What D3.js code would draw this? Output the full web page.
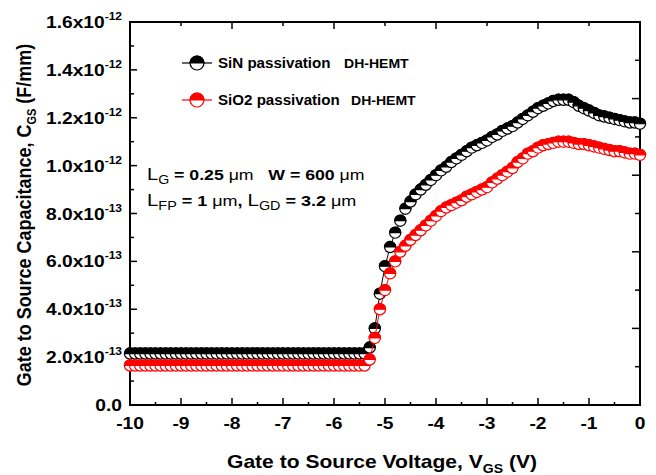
<!DOCTYPE html>
<html>
<head>
<meta charset="utf-8">
<script src="https://cdn.jsdelivr.net/npm/d3@7"></script>
<style>
  body { margin: 0; background: #fff; }
  text { font-family: "Liberation Sans", Arial, sans-serif; white-space: pre; }
</style>
</head>
<body>
<script>
// gate voltage grid, 0.1 V steps from -10 to 0
var vgs = d3.range(-100, 1).map(function(i) { return i / 10; });

// Cgs in units of 1e-13 F/mm, one value per vgs point
var sinCgs = [
  2.15, 2.15, 2.15, 2.15, 2.15, 2.15, 2.15, 2.15, 2.15, 2.15,
  2.15, 2.15, 2.15, 2.15, 2.15, 2.15, 2.15, 2.15, 2.15, 2.15,
  2.15, 2.15, 2.15, 2.15, 2.15, 2.15, 2.15, 2.15, 2.15, 2.15,
  2.15, 2.15, 2.15, 2.15, 2.15, 2.15, 2.15, 2.15, 2.15, 2.15,
  2.15, 2.15, 2.15, 2.15, 2.15, 2.15, 2.15,
  2.4, 3.2, 4.65, 5.8, 6.6, 7.2, 7.7, 8.2, 8.5, 8.8,
  9.0, 9.2, 9.4, 9.6, 9.8, 9.95, 10.15, 10.3, 10.45, 10.6,
  10.75, 10.85, 10.95, 11.05, 11.2, 11.3, 11.45, 11.55, 11.65, 11.8,
  11.95, 12.1, 12.25, 12.4, 12.5, 12.6, 12.7, 12.75, 12.75, 12.75,
  12.65, 12.5, 12.4, 12.3, 12.2, 12.1, 12.05, 12.0, 11.95, 11.9,
  11.85, 11.8, 11.8, 11.75
];
var sio2Cgs = [
  1.65, 1.65, 1.65, 1.65, 1.65, 1.65, 1.65, 1.65, 1.65, 1.65,
  1.65, 1.65, 1.65, 1.65, 1.65, 1.65, 1.65, 1.65, 1.65, 1.65,
  1.65, 1.65, 1.65, 1.65, 1.65, 1.65, 1.65, 1.65, 1.65, 1.65,
  1.65, 1.65, 1.65, 1.65, 1.65, 1.65, 1.65, 1.65, 1.65, 1.65,
  1.65, 1.65, 1.65, 1.65, 1.65, 1.65, 1.65,
  1.9, 2.8, 4.0, 4.8, 5.5, 6.0, 6.4, 6.65, 6.9, 7.1,
  7.3, 7.5, 7.7, 7.9, 8.1, 8.25, 8.35, 8.45, 8.55, 8.7,
  8.8, 8.9, 9.0, 9.1, 9.3, 9.45, 9.6, 9.75, 9.9, 10.15,
  10.3, 10.5, 10.6, 10.75, 10.85, 10.9, 10.95, 11.0, 11.0, 11.0,
  10.95, 10.9, 10.9, 10.85, 10.8, 10.75, 10.7, 10.65, 10.6, 10.6,
  10.55, 10.5, 10.5, 10.45
];

var seriesNames = ["SiN passivation", "SiO2 passivation"];
var seriesColors = ["#000000", "#ff0000"];

var xTicks = [-10, -9, -8, -7, -6, -5, -4, -3, -2, -1, 0];
var yTickVals = [0, 2, 4, 6, 8, 10, 12, 14, 16];
var yTickMant = ["0.0", "2.0", "4.0", "6.0", "8.0", "1.0", "1.2", "1.4", "1.6"];
var yTickExp = ["", "-13", "-13", "-13", "-13", "-12", "-12", "-12", "-12"];

var W = 656, H = 475;
var pL = 130, pR = 640, pT = 22, pB = 405;
var stretch = 1.2;

var svg = d3.select("body").append("svg")
  .attr("width", W).attr("height", H);

var x = d3.scaleLinear().domain([-10, 0]).range([pL, pR]);
var y = d3.scaleLinear().domain([0, 16]).range([pB, pT]);
// right axis carries 10 equal divisions
var yR = d3.scaleLinear().domain([0, 10]).range([pB, pT]);

var ticks = svg.append("g").attr("stroke", "#000").attr("stroke-width", 1.5);

// bottom: integers long, halves short
d3.range(-20, 1).forEach(function(k) {
  var v = k / 2, len = (k % 2 === 0) ? 7 : 3;
  ticks.append("line").attr("x1", x(v)).attr("x2", x(v))
    .attr("y1", pB).attr("y2", pB - len);
});
// top: integers, even long
xTicks.forEach(function(v) {
  var len = (v % 2 === 0) ? 7 : 4;
  ticks.append("line").attr("x1", x(v)).attr("x2", x(v))
    .attr("y1", pT).attr("y2", pT + len);
});
// left: major each 2e-13, minor between
d3.range(0, 17).forEach(function(v) {
  var len = (v % 2 === 0) ? 7 : 4;
  ticks.append("line").attr("x1", pL).attr("x2", pL + len)
    .attr("y1", y(v)).attr("y2", y(v));
});
// right
d3.range(0, 11).forEach(function(v) {
  var len = (v % 2 === 0) ? 8 : 5;
  ticks.append("line").attr("x1", pR).attr("x2", pR - len)
    .attr("y1", yR(v)).attr("y2", yR(v));
});

svg.append("rect")
  .attr("x", pL).attr("y", pT)
  .attr("width", pR - pL).attr("height", pB - pT)
  .attr("fill", "none").attr("stroke", "#000").attr("stroke-width", 2);

// x tick labels
xTicks.forEach(function(v) {
  svg.append("text")
    .attr("transform", "translate(" + x(v) + "," + (pB + 24) + ") scale(" + stretch + ",1)")
    .attr("text-anchor", "middle")
    .attr("font-size", 16).attr("font-weight", "bold")
    .text(v);
});

// y tick labels with exponent
yTickVals.forEach(function(v, i) {
  var t = svg.append("text")
    .attr("transform", "translate(" + (pL - 8) + "," + (y(v) + 6) + ") scale(" + stretch + ",1)")
    .attr("text-anchor", "end")
    .attr("font-size", 16).attr("font-weight", "bold");
  if (yTickExp[i] === "") {
    t.text(yTickMant[i]);
  } else {
    t.append("tspan").text(yTickMant[i] + "x10");
    t.append("tspan").attr("font-size", 10).attr("dy", -8).text(yTickExp[i]);
  }
});

// axis titles
var xt = svg.append("text")
  .attr("transform", "translate(" + 382 + "," + 468 + ") scale(1.17,1)")
  .attr("text-anchor", "middle")
  .attr("font-size", 18).attr("font-weight", "bold");
xt.append("tspan").text("Gate to Source Voltage, V");
xt.append("tspan").attr("font-size", 12).attr("dy", 5).text("GS");
xt.append("tspan").attr("dy", -5).text(" (V)");

var yt = svg.append("text")
  .attr("transform", "translate(" + 31 + "," + 215 + ") rotate(-90) scale(1,1.15)")
  .attr("text-anchor", "middle")
  .attr("font-size", 18).attr("font-weight", "bold");
yt.append("tspan").text("Gate to Source Capacitance, C");
yt.append("tspan").attr("font-size", 11).attr("dy", 4).text("GS");
yt.append("tspan").attr("dy", -4).text(" (F/mm)");

// curves
var line = d3.line()
  .x(function(d, i) { return x(vgs[i]); })
  .y(function(d) { return y(d); });

function halfMarker(g, color, r) {
  g.append("circle").attr("r", r)
    .attr("fill", "#fff").attr("stroke", color).attr("stroke-width", 1.2);
  g.append("path").attr("d", "M" + (-r) + ",0 A" + r + "," + r + " 0 0,1 " + r + ",0 Z")
    .attr("fill", color).attr("stroke", color).attr("stroke-width", 1.2);
}

[sinCgs, sio2Cgs].forEach(function(series, s) {
  var color = seriesColors[s];
  var g = svg.append("g");
  g.append("path").datum(series)
    .attr("d", line).attr("fill", "none")
    .attr("stroke", color).attr("stroke-width", 1);
  g.selectAll("g.pt").data(series).enter().append("g")
    .attr("class", "pt")
    .attr("transform", function(d, i) { return "translate(" + x(vgs[i]) + "," + y(d) + ")"; })
    .each(function() { halfMarker(d3.select(this), color, 5.6); });
});

// legend
seriesNames.forEach(function(name, s) {
  var ly = 63 + s * 37;
  var color = seriesColors[s];
  svg.append("line").attr("x1", 182).attr("x2", 212)
    .attr("y1", ly).attr("y2", ly)
    .attr("stroke", color).attr("stroke-width", 1.2);
  halfMarker(svg.append("g").attr("transform", "translate(197," + ly + ")"), color, 7);
  svg.append("text")
    .attr("transform", "translate(218," + (ly + 5) + ") scale(1.08,1)")
    .attr("font-size", 14).attr("font-weight", "bold")
    .text(name);
  svg.append("text")
    .attr("transform", "translate(" + (s === 0 ? 344 : 351) + "," + (ly + 5) + ") scale(1.08,1)")
    .attr("font-size", 13).attr("font-weight", "bold")
    .text("DH-HEMT");
});

// device note
var n1 = svg.append("text").attr("transform", "translate(147,180) scale(1.18,1)").attr("font-size", 15);
n1.append("tspan").attr("font-size", 17).text("L");
n1.append("tspan").attr("font-size", 12).attr("dy", 4).text("G");
n1.append("tspan").attr("dy", -4).attr("font-weight", "bold").text(" = 0.25 ");
n1.append("tspan").text("\u03bcm");
n1.append("tspan").attr("font-weight", "bold").text("   W = 600 ");
n1.append("tspan").text("\u03bcm");

var n2 = svg.append("text").attr("transform", "translate(147,206) scale(1.2,1)").attr("font-size", 15);
n2.append("tspan").attr("font-size", 17).text("L");
n2.append("tspan").attr("font-size", 12).attr("dy", 4).text("FP");
n2.append("tspan").attr("dy", -4).attr("font-weight", "bold").text(" = 1 ");
n2.append("tspan").text("\u03bcm");
n2.append("tspan").attr("font-weight", "bold").text(", ");
n2.append("tspan").attr("font-size", 17).text("L");
n2.append("tspan").attr("font-size", 12).attr("dy", 4).text("GD");
n2.append("tspan").attr("dy", -4).attr("font-weight", "bold").text(" = 3.2 ");
n2.append("tspan").text("\u03bcm");
</script>
</body>
</html>
